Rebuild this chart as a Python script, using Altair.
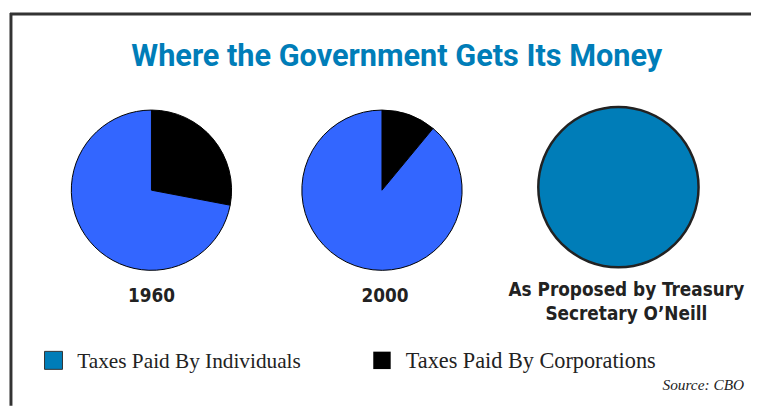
import altair as alt
import pandas as pd

# ---- data ----
pies = ["1960", "2000", "Proposed"]
individuals = [72, 89, 100]
corporations = [28, 11, 0]
pie_labels = ["1960", "2000", "As Proposed by Treasury|Secretary O\u2019Neill"]
legend_labels = ["Taxes Paid By Individuals", "Taxes Paid By Corporations"]
title_text = "Where the Government Gets Its Money"
source_text = "Source: CBO"

rows = []
for p, ind, corp in zip(pies, individuals, corporations):
    ind_cat = "Individuals (proposed)" if p == "Proposed" else "Individuals"
    rows.append({"pie": p, "category": "Corporations", "value": corp, "ord": 0})
    rows.append({"pie": p, "category": ind_cat, "value": ind, "ord": 1})
df = pd.DataFrame(rows)

color_scale = alt.Scale(
    domain=["Corporations", "Individuals", "Individuals (proposed)"],
    range=["#000000", "#3366FF", "#007DB8"],
)

W, H = 751, 400
one = pd.DataFrame({"a": [0]})

def pie(name, cx, cy, stroke, sw):
    return (
        alt.Chart(df)
        .transform_filter(alt.datum.pie == name)
        .mark_arc(radius=81, stroke=stroke, strokeWidth=sw)
        .encode(
            theta=alt.Theta("value:Q", stack=True),
            color=alt.Color("category:N", scale=color_scale, legend=None),
            order=alt.Order("ord:Q"),
            x=alt.value(cx),
            y=alt.value(cy),
        )
    )

def text(t, x, y, size, font, weight="normal", style="normal", align="center", color="#222222"):
    d = pd.DataFrame({"t": [t]})
    return (
        alt.Chart(d)
        .mark_text(
            fontSize=size, font=font, fontWeight=weight, fontStyle=style,
            align=align, baseline="alphabetic", color=color,
            lineBreak="|", lineHeight=24,
        )
        .encode(text="t:N", x=alt.value(x), y=alt.value(y))
    )

title_font = "Roboto, DejaVu Sans, sans-serif"
lab_font = "Liberation Sans Narrow, DejaVu Sans Condensed, Roboto, sans-serif"
serif = "Liberation Serif, DejaVu Serif, serif"

frame_v = alt.Chart(one).mark_rule(color="#333333", strokeWidth=3).encode(
    x=alt.value(3), y=alt.value(3), y2=alt.value(H))
frame_h = alt.Chart(one).mark_rule(color="#333333", strokeWidth=3).encode(
    x=alt.value(2), x2=alt.value(W), y=alt.value(4))

leg_df = pd.DataFrame({"label": legend_labels, "category": ["Individuals (proposed)", "Corporations"]})
sw1 = alt.Chart(leg_df.iloc[[0]]).mark_square(size=330, stroke="#333333", strokeWidth=1, opacity=1).encode(
    x=alt.value(46), y=alt.value(354),
    color=alt.Color("category:N", scale=color_scale, legend=None))
sw2 = alt.Chart(leg_df.iloc[[1]]).mark_square(size=310, opacity=1).encode(
    x=alt.value(378), y=alt.value(354),
    color=alt.Color("category:N", scale=color_scale, legend=None))

chart = alt.layer(
    frame_v, frame_h,
    text(title_text, 393, 56, 31, title_font, weight="bold", color="#007DB8"),
    pie("1960", 145, 182, "#000000", 1),
    pie("2000", 378, 182, "#000000", 1),
    pie("Proposed", 617, 179, "#222222", 2.5),
    text(pie_labels[0], 145, 295, 19, lab_font, weight="bold"),
    text(pie_labels[1], 381, 295, 19, lab_font, weight="bold"),
    text(pie_labels[2], 625, 289, 19, lab_font, weight="bold"),
    sw1, sw2,
    text(legend_labels[0], 70, 362, 21.5, serif, align="left"),
    text(legend_labels[1], 402, 362, 22.5, serif, align="left"),
    text(source_text, 744, 384, 15.5, serif, style="italic", align="right"),
).resolve_scale(theta="independent").properties(
    width=W, height=H, padding=0, autosize=alt.AutoSizeParams(type="none"),
).configure_view(stroke=None)

chart.save("out.html", embed_options={"renderer": "svg", "actions": False})
